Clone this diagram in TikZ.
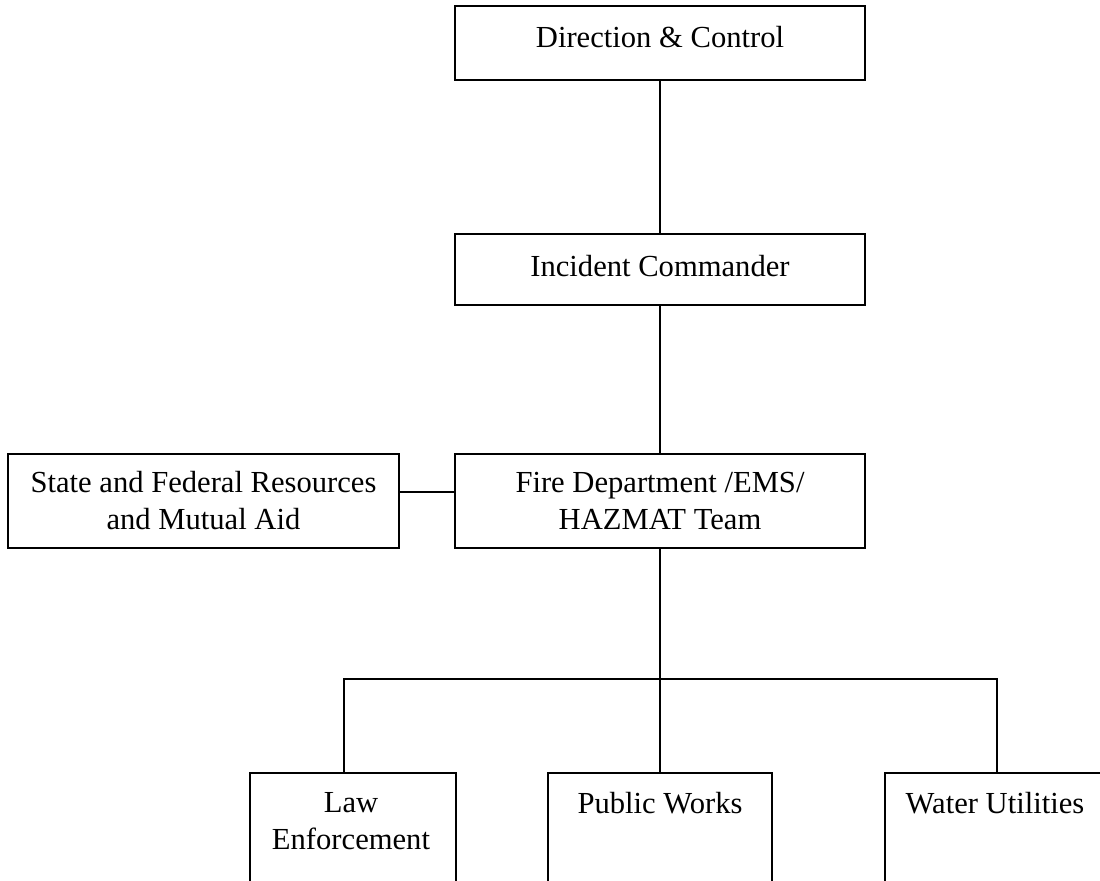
\documentclass[tikz,border=0pt]{standalone}
\usepackage{fontspec}
\setmainfont{Liberation Serif}
\begin{document}
\begin{tikzpicture}[x=0.5pt,y=-0.5pt,
  box/.style={draw, line width=1.1pt, rectangle, inner sep=0pt, align=center,
    font=\fontsize{15.3}{18.5}\selectfont},
  txt/.style={inner sep=0pt, align=center, font=\fontsize{15.3}{18.5}\selectfont},
  link/.style={line width=1.1pt}]
\useasboundingbox (0,0) rectangle (1100,881);
\clip (0,0) rectangle (1100,881);

% command chain
\node[box, minimum width=205pt, minimum height=37pt, text depth=6pt] (dc) at (660,43) {Direction \& Control};
\node[box, minimum width=205pt, minimum height=35.5pt, text depth=4pt] (ic) at (660,269.5) {Incident Commander};
\node[box, minimum width=205pt, minimum height=47pt] (fd) at (660,501) {Fire Department /EMS/\\HAZMAT Team};
\node[box, minimum width=195.5pt, minimum height=47pt] (sf) at (203.5,501) {State and Federal Resources\\and Mutual Aid};

% supporting agencies (boxes run past the lower edge)
\node[box, anchor=north, minimum width=103pt, minimum height=70pt] (law) at (353,772) {};
\node[box, anchor=north, minimum width=112pt, minimum height=70pt] (pw) at (660,772) {};
\node[box, anchor=north, minimum width=112pt, minimum height=70pt] (wu) at (997,772) {};
\node[txt] (lawt) at (351,821) {Law\\Enforcement};
\node[txt] (pwt) at (660,803) {Public Works};
\node[txt] (wut) at (995,803) {Water Utilities};

% connectors
\coordinate (bus) at (660,679);
\coordinate (lawtop) at (344,772);
\draw[link] (dc.south) -- (ic.north);
\draw[link] (ic.south) -- (fd.north);
\draw[link] ([yshift=4.5pt]sf.east) -- ([yshift=4.5pt]fd.west);
\draw[link] (fd.south) -- (pw.north);
\draw[link] (lawtop) |- (bus) -| (wu.north);
\end{tikzpicture}
\end{document}
